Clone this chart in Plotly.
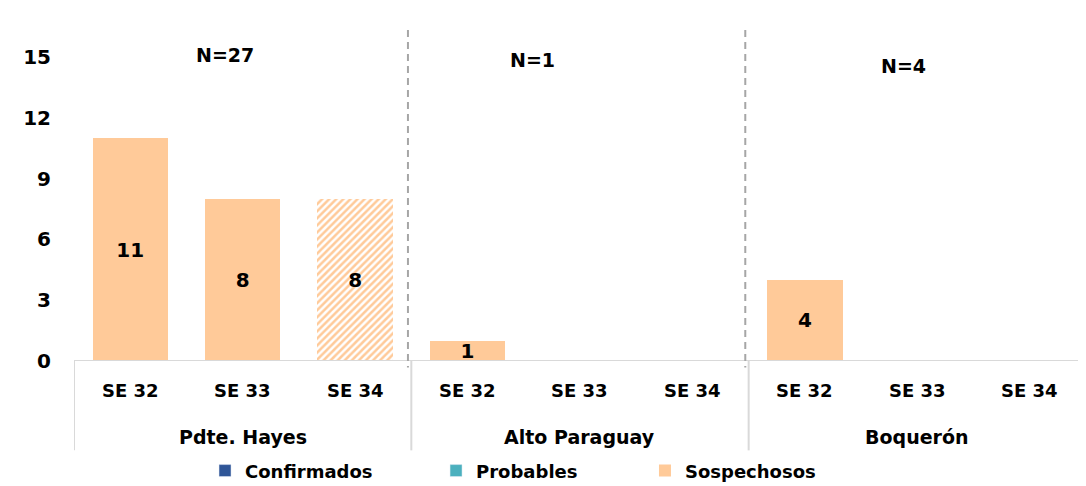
import plotly.graph_objects as go

groups = ["Pdte. Hayes", "Alto Paraguay", "Boquerón"]
weeks = ["SE 32", "SE 33", "SE 34"]
group_totals = ["N=27", "N=1", "N=4"]
confirmados = [0, 0, 0, 0, 0, 0, 0, 0, 0]
probables = [0, 0, 0, 0, 0, 0, 0, 0, 0]
sospechosos = [11, 8, 8, 1, 0, 0, 4, 0, 0]
y_ticks = [0, 3, 6, 9, 12, 15]

x = list(range(len(groups) * len(weeks)))
week_labels = [w for g in groups for w in weeks]

FONT = "DejaVu Sans"
PEACH = "#FFCA99"

def lbl(vals):
    return [str(v) if v else "" for v in vals]

common = dict(width=0.67, textposition="inside", insidetextanchor="middle",
              constraintext="none", textangle=0,
              textfont=dict(family=FONT, size=20, color="black", weight="bold"))

fig = go.Figure()
fig.add_trace(go.Bar(x=x, y=confirmados, name="Confirmados", marker_color="#2F5597",
                     text=lbl(confirmados), legend="legend", **common))
fig.add_trace(go.Bar(x=x, y=probables, name="Probables", marker_color="#4BB0BE",
                     text=lbl(probables), legend="legend2", **common))
patterns = ["" for _ in x]
patterns[2] = "/"
fig.add_trace(go.Bar(x=x, y=sospechosos, name="Sospechosos",
                     marker=dict(color=PEACH, line=dict(width=0),
                                 pattern=dict(shape=patterns, fgcolor=PEACH, bgcolor="white",
                                              size=5, solidity=0.5, fillmode="replace")),
                     text=lbl(sospechosos), legend="legend3", **common))

shapes = []
ann = []
LINE = "#D9D9D9"
shapes.append(dict(type="line", xref="x", yref="y", x0=-0.5, x1=8.5, y0=0, y1=0,
                   line=dict(color=LINE, width=2)))
for bx in [-0.5, 2.5, 5.5, 8.49]:
    shapes.append(dict(type="line", xref="x", yref="paper", x0=bx, x1=bx, y0=0, y1=-0.27,
                       line=dict(color=LINE, width=2)))
for bx in [2.47, 5.47]:
    shapes.append(dict(type="line", xref="x", yref="paper", x0=bx, x1=bx, y0=1, y1=-0.02,
                       line=dict(color="#A6A6A6", width=2, dash="7px,5px")))

for i, w in enumerate(week_labels):
    ann.append(dict(x=x[i], y=-0.0906, xref="x", yref="paper", yanchor="middle",
                    text=f"<b>{w}</b>", showarrow=False,
                    font=dict(family=FONT, size=18, color="black")))
ny = [15.1, 14.85, 14.55]
nx = [0.84, 3.58, 6.88]
for gi, g in enumerate(groups):
    ann.append(dict(x=gi * 3 + 1, y=-0.23, xref="x", yref="paper", yanchor="middle",
                    text=f"<b>{g}</b>", showarrow=False,
                    font=dict(family=FONT, size=19, color="black")))
    ann.append(dict(x=nx[gi], y=ny[gi], xref="x", yref="y", yanchor="middle",
                    text=f"<b>{group_totals[gi]}</b>", showarrow=False,
                    font=dict(family=FONT, size=19, color="black")))

legend_font = dict(family=FONT, size=18, color="black", weight="bold")
def leg(xp):
    return dict(orientation="h", x=xp, xanchor="left", y=-0.332, yanchor="middle",
                font=legend_font, itemclick=False, bgcolor="rgba(0,0,0,0)")

fig.update_layout(
    width=1070, height=490,
    margin=dict(l=66, r=0, t=22, b=137),
    barmode="stack",
    plot_bgcolor="white", paper_bgcolor="white",
    font=dict(family=FONT, color="black"),
    xaxis=dict(range=[-0.5, 8.429], showticklabels=False, showgrid=False, zeroline=False,
               showline=False, ticks=""),
    yaxis=dict(range=[0, 16.33], tickvals=y_ticks, ticktext=[f"<b>{v}</b>" for v in y_ticks],
               showgrid=False, zeroline=False, showline=False, ticks="",
               tickfont=dict(family=FONT, size=20, color="black"), ticklabelstandoff=22),
    showlegend=True,
    legend=leg(0.1305),
    legend2=leg(0.3606),
    legend3=leg(0.5687),
    shapes=shapes, annotations=ann,
)
fig.write_html("out.html")
